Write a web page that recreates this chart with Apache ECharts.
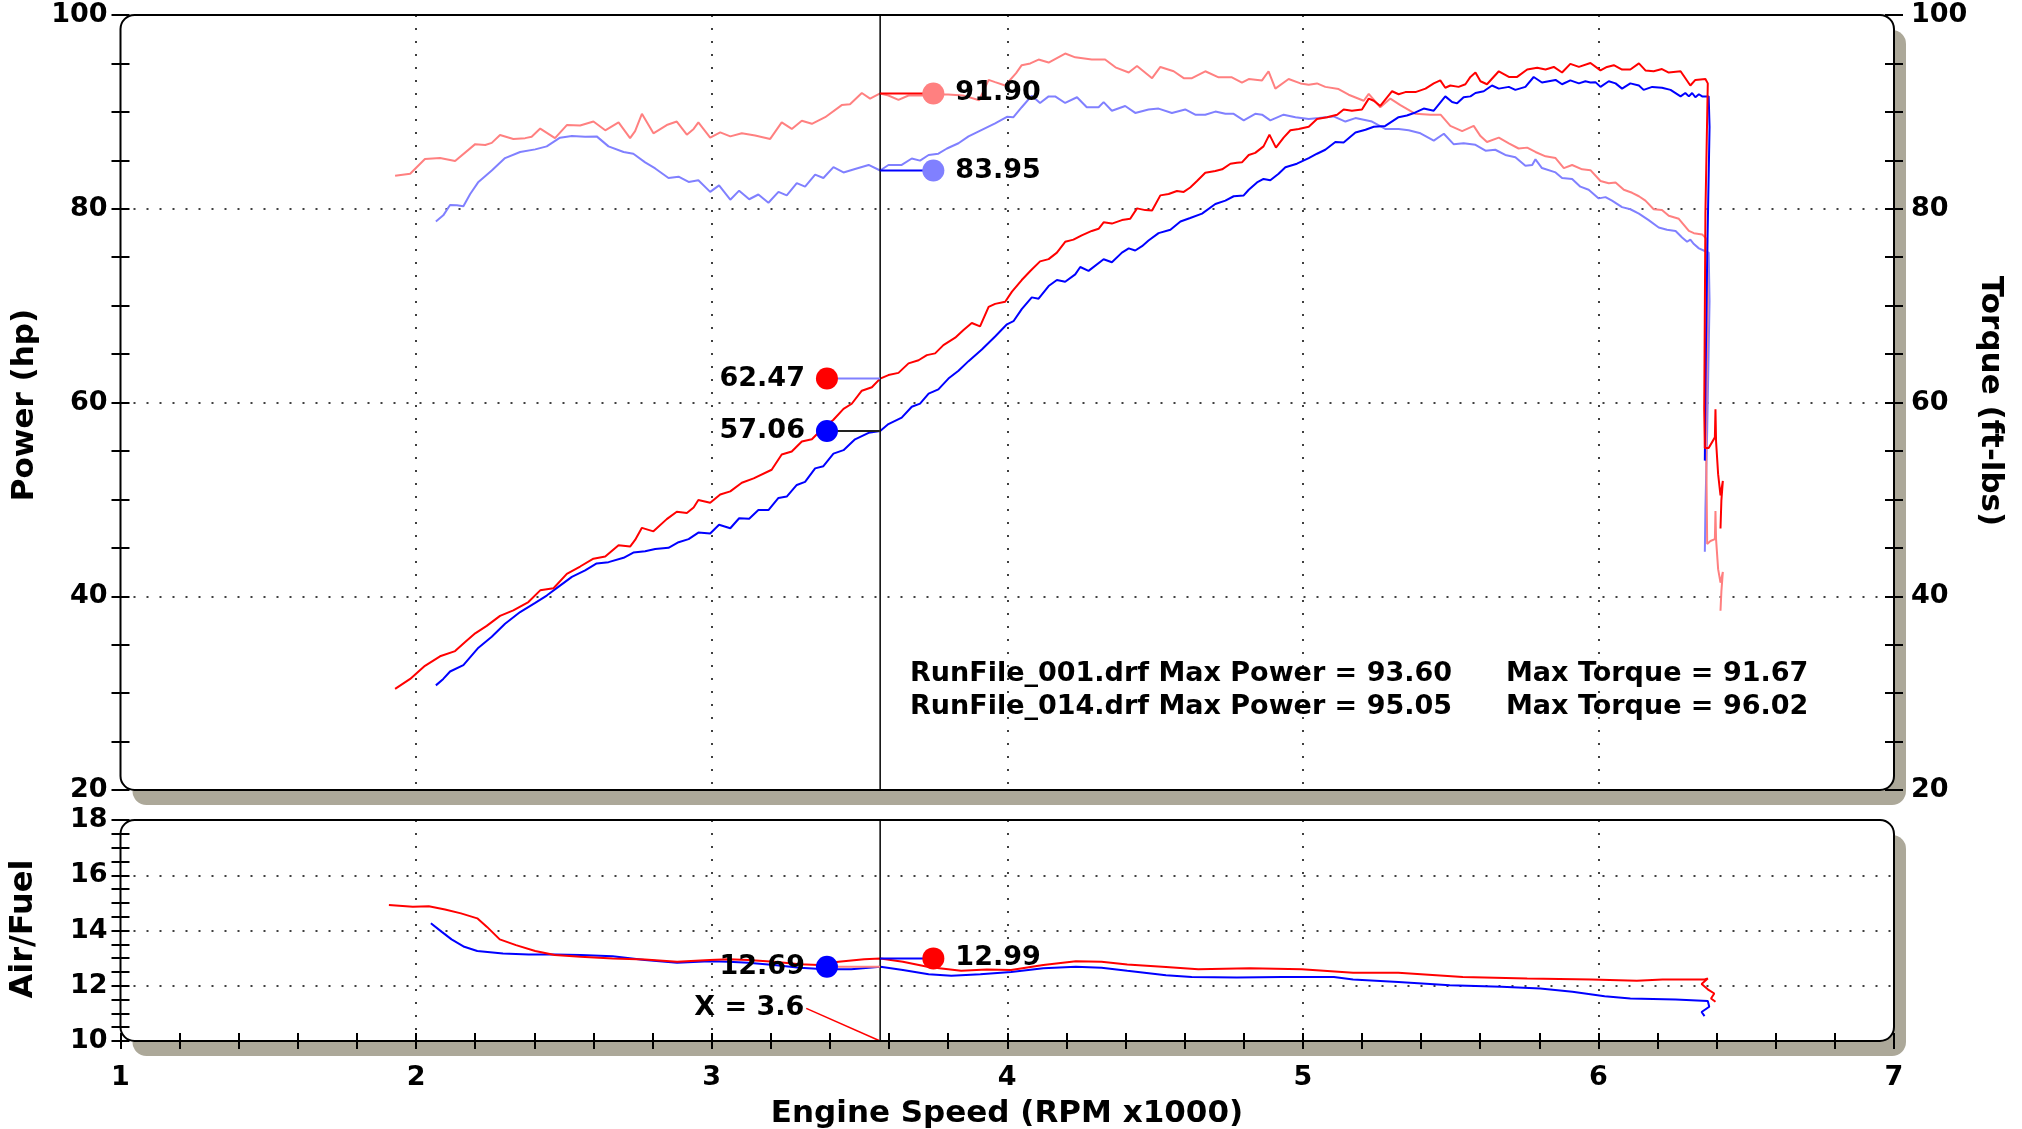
<!DOCTYPE html>
<html><head><meta charset="utf-8">
<script src="https://cdn.jsdelivr.net/npm/echarts/dist/echarts.min.js"></script>
<style>html,body{margin:0;padding:0;background:#fff}#c{width:2022px;height:1129px}</style>
</head><body><div id="c"></div>
<script>
// ---------- DATA ----------
// Run 001 (blue) power, hp
const pwrA_rpm = [2.067,2.092,2.115,2.160,2.211,2.256,2.301,2.352,2.403,2.442,2.487,2.527,2.572,2.611,2.651,2.702,2.735,2.775,2.809,2.854,2.888,2.922,2.955,2.995,3.025,3.063,3.093,3.127,3.158,3.192,3.226,3.254,3.288,3.316,3.350,3.378,3.412,3.446,3.485,3.531,3.570,3.598,3.643,3.677,3.705,3.734,3.767,3.801,3.835,3.869,3.914,3.959,3.999,4.021,4.049,4.083,4.106,4.140,4.168,4.196,4.230,4.247,4.275,4.326,4.354,4.388,4.411,4.433,4.456,4.478,4.512,4.552,4.586,4.619,4.659,4.704,4.738,4.766,4.800,4.817,4.845,4.867,4.890,4.918,4.941,4.980,5.020,5.048,5.076,5.110,5.138,5.178,5.212,5.240,5.279,5.324,5.352,5.381,5.409,5.443,5.482,5.505,5.522,5.544,5.567,5.584,5.612,5.640,5.663,5.697,5.719,5.753,5.781,5.809,5.855,5.877,5.905,5.934,5.956,5.973,5.990,6.007,6.035,6.058,6.080,6.108,6.137,6.153,6.182,6.215,6.244,6.278,6.294,6.306,6.317,6.328,6.340,6.351,6.373,6.376,6.368,6.362,6.360];
const pwrA_hp = [30.80,31.47,32.23,32.90,34.69,35.82,37.16,38.37,39.31,40.07,41.10,42.00,42.67,43.39,43.52,43.97,44.51,44.64,44.87,45.00,45.58,45.90,46.57,46.48,47.38,47.02,48.05,48.00,48.90,48.90,50.15,50.29,51.49,51.81,53.20,53.42,54.72,55.08,56.20,56.87,57.06,57.77,58.44,59.56,59.88,60.91,61.35,62.47,63.28,64.27,65.48,66.82,68.07,68.39,69.64,70.85,70.72,72.02,72.64,72.46,73.23,73.99,73.59,74.79,74.48,75.47,75.91,75.69,76.14,76.72,77.48,77.84,78.69,79.05,79.50,80.49,80.84,81.29,81.38,81.96,82.72,83.08,82.95,83.62,84.29,84.65,85.23,85.68,86.09,86.89,86.85,87.88,88.15,88.46,88.55,89.45,89.62,89.94,90.34,90.12,91.60,91.01,90.88,91.51,91.60,91.95,92.13,92.72,92.40,92.58,92.27,92.58,93.60,93.03,93.30,92.85,93.25,92.94,93.16,93.03,93.07,92.58,93.16,92.94,92.40,92.94,92.72,92.27,92.58,92.49,92.27,91.60,91.95,91.60,91.95,91.51,91.82,91.60,91.60,88.46,75.00,61.58,54.00];
// Run 014 (red) power, hp
const pwrB_rpm = [1.929,1.980,2.030,2.081,2.132,2.166,2.200,2.239,2.284,2.329,2.380,2.420,2.465,2.510,2.555,2.600,2.640,2.685,2.724,2.741,2.764,2.803,2.848,2.882,2.916,2.939,2.955,2.995,3.029,3.063,3.102,3.142,3.203,3.237,3.271,3.305,3.339,3.373,3.412,3.446,3.474,3.508,3.542,3.570,3.598,3.632,3.666,3.700,3.728,3.756,3.784,3.824,3.852,3.880,3.908,3.937,3.959,3.993,4.016,4.049,4.078,4.111,4.140,4.168,4.196,4.224,4.252,4.286,4.309,4.326,4.354,4.388,4.416,4.439,4.467,4.490,4.518,4.546,4.574,4.597,4.619,4.642,4.670,4.704,4.727,4.755,4.777,4.794,4.817,4.839,4.867,4.887,4.909,4.935,4.958,4.986,5.020,5.048,5.082,5.116,5.138,5.166,5.200,5.223,5.240,5.262,5.302,5.324,5.347,5.381,5.415,5.443,5.465,5.482,5.499,5.527,5.550,5.567,5.584,5.601,5.623,5.663,5.697,5.725,5.759,5.793,5.821,5.849,5.877,5.905,5.934,5.973,6.007,6.029,6.052,6.080,6.108,6.137,6.159,6.187,6.215,6.238,6.278,6.311,6.328,6.362,6.370,6.362,6.358,6.360,6.373,6.394,6.396,6.398,6.405,6.413,6.421,6.416,6.413];
const pwrB_hp = [30.44,31.47,32.82,33.80,34.34,35.28,36.17,36.94,37.97,38.55,39.40,40.61,40.83,42.31,43.07,43.88,44.10,45.27,45.13,45.81,47.06,46.70,47.96,48.72,48.59,49.17,49.93,49.66,50.51,50.83,51.72,52.17,53.06,54.63,54.95,55.98,56.20,57.23,58.22,59.34,59.87,61.22,61.58,62.47,62.83,63.06,64.04,64.36,64.89,65.07,65.92,66.69,67.49,68.21,67.85,69.87,70.18,70.40,71.44,72.64,73.58,74.57,74.80,75.47,76.59,76.81,77.26,77.71,77.93,78.60,78.47,78.83,78.96,80.04,79.86,79.81,81.38,81.52,81.83,81.74,82.19,82.86,83.71,83.89,84.07,84.65,84.74,84.79,85.55,85.77,86.44,87.65,86.31,87.34,88.10,88.24,88.46,89.27,89.45,89.71,90.25,90.12,90.25,91.37,91.15,90.61,92.13,91.82,92.04,92.04,92.40,92.94,93.25,92.49,92.72,92.58,92.85,93.61,94.06,93.16,92.85,94.19,93.61,93.61,94.37,94.55,94.37,94.64,94.06,94.96,94.64,95.05,94.28,94.64,94.82,94.37,94.37,95.00,94.28,94.19,94.42,94.06,94.19,92.72,93.30,93.39,92.94,79.50,59.30,55.30,55.30,56.40,59.30,56.00,52.60,50.40,51.90,49.90,47.00];
// Run 001 (light blue) torque, ft-lbs
const trqA_rpm = [2.067,2.092,2.115,2.138,2.160,2.183,2.211,2.256,2.301,2.352,2.403,2.442,2.487,2.527,2.572,2.611,2.651,2.702,2.735,2.775,2.809,2.854,2.888,2.922,2.955,2.995,3.025,3.063,3.093,3.127,3.158,3.192,3.226,3.254,3.288,3.316,3.350,3.378,3.412,3.446,3.485,3.531,3.570,3.598,3.643,3.677,3.705,3.734,3.767,3.796,3.835,3.869,3.914,3.959,3.999,4.021,4.049,4.083,4.111,4.140,4.162,4.196,4.236,4.269,4.309,4.326,4.354,4.399,4.433,4.478,4.512,4.557,4.602,4.636,4.670,4.704,4.738,4.766,4.800,4.839,4.862,4.890,4.935,4.975,5.020,5.054,5.104,5.144,5.178,5.234,5.279,5.324,5.358,5.398,5.443,5.477,5.510,5.544,5.584,5.618,5.651,5.685,5.719,5.753,5.776,5.787,5.809,5.855,5.877,5.911,5.939,5.967,6.001,6.024,6.046,6.080,6.108,6.137,6.170,6.204,6.232,6.261,6.283,6.300,6.311,6.323,6.340,6.356,6.373,6.376,6.368,6.362,6.360];
const trqA_ft = [78.69,79.32,80.39,80.35,80.26,81.52,82.77,83.94,85.23,85.86,86.13,86.44,87.34,87.52,87.43,87.47,86.44,85.86,85.68,84.79,84.16,83.17,83.31,82.77,82.95,81.74,82.41,80.93,81.87,80.98,81.47,80.62,81.74,81.38,82.64,82.28,83.53,83.17,84.29,83.75,84.11,84.52,83.95,84.52,84.52,85.19,84.97,85.55,85.68,86.22,86.76,87.47,88.15,88.82,89.49,89.45,90.48,91.67,90.92,91.60,91.60,90.92,91.51,90.48,90.48,91.01,90.12,90.61,89.89,90.25,90.34,89.89,90.25,89.71,89.71,90.03,89.80,89.80,89.13,89.80,89.71,89.13,89.71,89.45,89.27,89.36,89.53,89.00,89.36,89.00,88.24,88.24,88.10,87.79,87.03,87.74,86.67,86.76,86.60,85.99,86.09,85.55,85.32,84.43,84.52,85.10,84.20,83.75,83.17,83.08,82.28,81.96,81.07,81.20,80.84,80.17,79.95,79.50,78.83,78.07,77.84,77.71,77.03,76.59,76.81,76.36,75.91,75.69,75.47,70.50,57.10,49.00,44.60];
// Run 014 (light red) torque, ft-lbs
const trqB_rpm = [1.929,1.980,2.030,2.081,2.132,2.200,2.234,2.256,2.284,2.329,2.369,2.391,2.420,2.470,2.510,2.555,2.600,2.640,2.685,2.724,2.741,2.764,2.803,2.848,2.882,2.916,2.939,2.955,2.995,3.029,3.063,3.102,3.147,3.198,3.237,3.271,3.305,3.339,3.384,3.440,3.468,3.508,3.536,3.570,3.598,3.632,3.666,3.711,3.750,3.800,3.850,3.905,3.937,3.959,3.993,4.030,4.049,4.078,4.106,4.140,4.196,4.230,4.286,4.331,4.366,4.411,4.439,4.490,4.518,4.563,4.597,4.625,4.670,4.715,4.760,4.794,4.817,4.862,4.884,4.907,4.952,4.992,5.020,5.048,5.076,5.121,5.155,5.206,5.223,5.262,5.296,5.330,5.381,5.432,5.466,5.499,5.539,5.578,5.601,5.623,5.663,5.697,5.730,5.759,5.787,5.821,5.855,5.883,5.911,5.945,5.973,6.007,6.035,6.058,6.086,6.114,6.137,6.159,6.187,6.215,6.238,6.272,6.306,6.323,6.351,6.368,6.370,6.364,6.368,6.379,6.394,6.396,6.398,6.405,6.413,6.421,6.416,6.413];
const trqB_ft = [83.40,83.62,85.14,85.23,84.92,86.67,86.58,86.80,87.61,87.20,87.29,87.43,88.28,87.29,88.64,88.59,89.00,88.10,88.91,87.29,88.01,89.80,87.79,88.64,89.00,87.65,88.24,88.91,87.34,87.88,87.47,87.79,87.56,87.21,88.91,88.24,89.09,88.77,89.45,90.70,90.79,91.95,91.37,91.90,91.69,91.24,91.69,91.69,91.80,91.80,91.70,91.20,93.30,93.07,92.72,94.00,94.82,95.00,95.40,95.09,96.02,95.63,95.40,95.40,94.60,94.06,94.73,93.48,94.64,94.19,93.48,93.48,94.19,93.57,93.57,93.03,93.39,93.25,94.19,92.40,93.39,92.94,92.81,92.94,92.58,92.36,91.77,91.15,91.86,90.48,91.37,90.70,89.80,89.71,89.71,88.55,88.01,88.55,87.50,86.89,87.34,86.76,86.22,86.31,85.86,85.41,85.23,84.20,84.52,84.07,83.98,82.86,82.64,82.72,81.96,81.65,81.29,80.84,79.95,79.86,79.27,78.96,77.71,77.48,77.35,76.81,70.50,57.10,45.40,45.70,45.90,48.80,45.90,42.80,41.40,42.50,40.50,38.50];
// Air/Fuel ratio
const afrA_rpm = [2.050,2.087,2.120,2.163,2.207,2.294,2.381,2.469,2.556,2.665,2.774,2.883,2.993,3.058,3.123,3.211,3.298,3.385,3.472,3.571,3.647,3.734,3.811,3.909,4.013,4.122,4.232,4.319,4.406,4.537,4.624,4.777,4.930,5.105,5.170,5.323,5.497,5.672,5.803,5.912,6.021,6.108,6.261,6.370,6.375,6.349,6.359];
const afrA_val = [14.26,13.95,13.68,13.41,13.26,13.17,13.13,13.13,13.11,13.07,12.93,12.83,12.89,12.87,12.83,12.75,12.65,12.60,12.60,12.69,12.57,12.42,12.36,12.42,12.50,12.63,12.69,12.65,12.54,12.38,12.32,12.30,12.32,12.32,12.23,12.14,12.02,11.96,11.90,11.78,11.62,11.54,11.50,11.45,11.24,11.05,10.90];
const afrB_rpm = [1.908,1.989,2.043,2.098,2.152,2.207,2.240,2.283,2.338,2.403,2.469,2.556,2.665,2.774,2.883,2.993,3.058,3.123,3.211,3.298,3.363,3.429,3.516,3.571,3.647,3.734,3.844,3.931,4.013,4.122,4.232,4.319,4.406,4.537,4.646,4.821,4.996,5.170,5.323,5.541,5.759,5.977,6.130,6.217,6.359,6.370,6.349,6.370,6.392,6.381,6.396];
const afrB_val = [14.92,14.86,14.88,14.76,14.62,14.44,14.13,13.68,13.47,13.26,13.11,13.05,12.99,12.95,12.87,12.93,12.96,12.93,12.87,12.78,12.75,12.87,12.96,12.99,12.87,12.68,12.54,12.59,12.57,12.75,12.89,12.87,12.77,12.68,12.60,12.63,12.60,12.47,12.47,12.32,12.26,12.23,12.18,12.23,12.23,12.26,12.06,11.87,11.72,11.54,11.42];
// Cursor readout
const cursorRpm = 3.57;
const markRightRpm = 3.75, markLeftRpm = 3.39;
const cursorTrqB = 91.90, cursorTrqA = 83.95, cursorPwrB = 62.47, cursorPwrA = 57.06;
const cursorAfrB = 12.99, cursorAfrA = 12.69;
const xLabelPoint = [3.32, 11.18];
const summaryLines = [
  ['RunFile_001.drf Max Power = 93.60', 'Max Torque = 91.67'],
  ['RunFile_014.drf Max Power = 95.05', 'Max Torque = 96.02']
];

// ---------- CHART ----------
const FONT = '"DejaVu Sans", Verdana, sans-serif';
const pair = (a, b) => a.map((v, i) => [v, b[i]]);
const GU = {left: 120.5, top: 15, width: 1773.5, height: 775};
const GL = {left: 120.5, top: 820, width: 1773.5, height: 221};
const dotted = {color: '#000', width: 1.5, type: [2, 11]};
const lbl = {color: '#000', opacity: 1, fontFamily: FONT, fontWeight: 'bold', fontSize: 27, textBorderWidth: 0};

function yAx(grid, pos, min, max, itv, opt) {
  return Object.assign({
    type: 'value', gridIndex: grid, position: pos, min: min, max: max, interval: itv,
    axisLine: {show: false},
    axisTick: {show: true, length: 9, lineStyle: {color: '#000', width: 2}},
    minorTick: {show: true, splitNumber: 4, length: 9, lineStyle: {color: '#000', width: 2}},
    axisLabel: {show: false},
    splitLine: {show: false}, minorSplitLine: {show: false}
  }, opt);
}

const chart = echarts.init(document.getElementById('c'), null, {renderer: 'canvas'});
const lineS = (name, data, color, x, y, z) => ({
  name: name, type: 'line', xAxisIndex: x, yAxisIndex: y, data: data, showSymbol: false, symbol: 'none',
  lineStyle: {color: color, width: 2, opacity: 1}, itemStyle: {color: color}, silent: true, z: z || 2, animation: false
});
const leader = (p0, p1, color, x, y) => lineS('', [p0, p1], color, x, y, 5);
const dot = (pt, color, pos, x, y) => ({
  type: 'scatter', xAxisIndex: x, yAxisIndex: y, symbolSize: 22, z: 6, silent: true,
  itemStyle: {opacity: 1},
  data: [{value: pt, itemStyle: {color: color, opacity: 1}}],
  label: Object.assign({show: true, position: pos, distance: 11, formatter: p => p.value[1].toFixed(2)}, lbl)
});
const tickLbl = Object.assign({padding: [5, 0, 0, 0]}, lbl);

chart.setOption({
  animation: false,
  backgroundColor: '#fff',
  grid: [
    Object.assign({show: false, outerBoundsMode: 'none', containLabel: false}, GU),
    Object.assign({show: false, outerBoundsMode: 'none', containLabel: false}, GL)
  ],
  xAxis: [
    {type: 'value', gridIndex: 0, min: 1, max: 7, interval: 1, axisLine: {show: false}, axisTick: {show: false},
     axisLabel: {show: false}, splitLine: {show: true, showMinLine: false, showMaxLine: false, lineStyle: dotted}},
    {type: 'value', gridIndex: 1, position: 'bottom', min: 1, max: 7, interval: 1, axisLine: {show: false},
     axisTick: {show: true, length: 8, lineStyle: {color: '#000', width: 2}},
     minorTick: {show: true, splitNumber: 5, length: 8, lineStyle: {color: '#000', width: 2}},
     axisLabel: Object.assign({show: true, margin: 23}, lbl),
     splitLine: {show: true, showMinLine: false, showMaxLine: false, lineStyle: dotted}},
    {type: 'value', gridIndex: 1, position: 'bottom', min: 1, max: 7, interval: 1, axisLine: {show: false},
     axisTick: {show: true, inside: true, length: 8, lineStyle: {color: '#000', width: 2}},
     minorTick: {show: true, splitNumber: 5, length: 8, lineStyle: {color: '#000', width: 2}},
     axisLabel: {show: false}, splitLine: {show: false}}
  ],
  yAxis: [
    yAx(0, 'left', 20, 100, 20, {axisLabel: Object.assign({show: true, margin: 13}, tickLbl),
      splitLine: {show: true, showMinLine: false, showMaxLine: false, lineStyle: dotted}}),
    yAx(0, 'right', 20, 100, 20, {axisLabel: Object.assign({show: true, margin: 17}, tickLbl)}),
    yAx(0, 'left', 20, 100, 20, {axisTick: {show: true, inside: true, length: 9, lineStyle: {color: '#000', width: 2}}}),
    yAx(0, 'right', 20, 100, 20, {axisTick: {show: true, inside: true, length: 9, lineStyle: {color: '#000', width: 2}}}),
    yAx(1, 'left', 10, 18, 2, {axisLabel: Object.assign({show: true, margin: 13}, tickLbl),
      splitLine: {show: true, showMinLine: false, showMaxLine: false, lineStyle: dotted}}),
    yAx(1, 'left', 10, 18, 2, {axisTick: {show: true, inside: true, length: 9, lineStyle: {color: '#000', width: 2}}})
  ],
  graphic: [
    {type: 'rect', z: -10, silent: true, shape: {x: GU.left + 12, y: GU.top + 15, width: GU.width, height: GU.height, r: 14}, style: {fill: '#aca899'}},
    {type: 'rect', z: -10, silent: true, shape: {x: GL.left + 12, y: GL.top + 15, width: GL.width, height: GL.height, r: 14}, style: {fill: '#aca899'}},
    {type: 'rect', z: -9, silent: true, shape: {x: GU.left, y: GU.top, width: GU.width, height: GU.height, r: 14}, style: {fill: '#fff'}},
    {type: 'rect', z: -9, silent: true, shape: {x: GL.left, y: GL.top, width: GL.width, height: GL.height, r: 14}, style: {fill: '#fff'}},
    {type: 'rect', z: 100, silent: true, shape: {x: GU.left, y: GU.top, width: GU.width, height: GU.height, r: 14}, style: {fill: null, stroke: '#000', lineWidth: 2}},
    {type: 'rect', z: 100, silent: true, shape: {x: GL.left, y: GL.top, width: GL.width, height: GL.height, r: 14}, style: {fill: null, stroke: '#000', lineWidth: 2}},
    {type: 'text', z: 100, x: 25, y: 405, rotation: Math.PI / 2, silent: true,
     style: {text: 'Power (hp)', font: 'bold 31px ' + FONT, fill: '#000', align: 'center', verticalAlign: 'middle', textAlign: 'center', textVerticalAlign: 'middle'}},
    {type: 'text', z: 100, x: 1990, y: 401, rotation: -Math.PI / 2, silent: true,
     style: {text: 'Torque (ft-lbs)', font: 'bold 31px ' + FONT, fill: '#000', align: 'center', verticalAlign: 'middle', textAlign: 'center', textVerticalAlign: 'middle'}},
    {type: 'text', z: 100, x: 24, y: 929, rotation: Math.PI / 2, silent: true,
     style: {text: 'Air/Fuel', font: 'bold 32px ' + FONT, fill: '#000', align: 'center', verticalAlign: 'middle', textAlign: 'center', textVerticalAlign: 'middle'}},
    {type: 'text', z: 100, x: 1007, y: 1114, silent: true,
     style: {text: 'Engine Speed (RPM x1000)', font: 'bold 31px ' + FONT, fill: '#000', align: 'center', verticalAlign: 'middle', textAlign: 'center', textVerticalAlign: 'middle'}},
    {type: 'text', z: 100, x: 910, y: 674, silent: true,
     style: {text: summaryLines[0][0], font: 'bold 27px ' + FONT, fill: '#000', align: 'left', verticalAlign: 'middle', textAlign: 'left', textVerticalAlign: 'middle'}},
    {type: 'text', z: 100, x: 910, y: 707, silent: true,
     style: {text: summaryLines[1][0], font: 'bold 27px ' + FONT, fill: '#000', align: 'left', verticalAlign: 'middle', textAlign: 'left', textVerticalAlign: 'middle'}},
    {type: 'text', z: 100, x: 1506, y: 674, silent: true,
     style: {text: summaryLines[0][1], font: 'bold 27px ' + FONT, fill: '#000', align: 'left', verticalAlign: 'middle', textAlign: 'left', textVerticalAlign: 'middle'}},
    {type: 'text', z: 100, x: 1506, y: 707, silent: true,
     style: {text: summaryLines[1][1], font: 'bold 27px ' + FONT, fill: '#000', align: 'left', verticalAlign: 'middle', textAlign: 'left', textVerticalAlign: 'middle'}}
  ],
  series: [
    lineS('Torque 001', pair(trqA_rpm, trqA_ft), '#8080ff', 0, 1, 2),
    lineS('Torque 014', pair(trqB_rpm, trqB_ft), '#ff8080', 0, 1, 2),
    lineS('Power 001', pair(pwrA_rpm, pwrA_hp), '#0000ff', 0, 0, 3),
    lineS('Power 014', pair(pwrB_rpm, pwrB_hp), '#ff0000', 0, 0, 3),
    lineS('A/F 001', pair(afrA_rpm, afrA_val), '#0000ff', 1, 4, 3),
    lineS('A/F 014', pair(afrB_rpm, afrB_val), '#ff0000', 1, 4, 3),
    // cursor lines
    Object.assign(lineS('cursor', [[cursorRpm, 20], [cursorRpm, 100]], '#000', 0, 0, 4), {lineStyle: {color: '#000', width: 1.5}}),
    Object.assign(lineS('cursor2', [[cursorRpm, 10], [cursorRpm, 18]], '#000', 1, 4, 4), {lineStyle: {color: '#000', width: 1.5}}),
    // leaders
    leader([cursorRpm, cursorTrqB], [markRightRpm, cursorTrqB], '#ff0000', 0, 1),
    leader([cursorRpm, cursorTrqA], [markRightRpm, cursorTrqA], '#0000ff', 0, 1),
    leader([markLeftRpm, cursorPwrB], [cursorRpm, cursorPwrB], '#8080ff', 0, 0),
    leader([markLeftRpm, cursorPwrA], [cursorRpm, cursorPwrA], '#222222', 0, 0),
    leader([cursorRpm, cursorAfrB], [markRightRpm, cursorAfrB], '#0000ff', 1, 4),
    leader([markLeftRpm, cursorAfrA], [cursorRpm, cursorAfrA], '#ff8080', 1, 4),
    Object.assign(leader([cursorRpm, 10], xLabelPoint, '#ff0000', 1, 4), {lineStyle: {color: '#ff0000', width: 1.5}}),
    // dots
    dot([markRightRpm, cursorTrqB], '#ff8080', 'right', 0, 1),
    dot([markRightRpm, cursorTrqA], '#8080ff', 'right', 0, 1),
    dot([markLeftRpm, cursorPwrB], '#ff0000', 'left', 0, 0),
    dot([markLeftRpm, cursorPwrA], '#0000ff', 'left', 0, 0),
    dot([markRightRpm, cursorAfrB], '#ff0000', 'right', 1, 4),
    dot([markLeftRpm, cursorAfrA], '#0000ff', 'left', 1, 4),
    {type: 'scatter', xAxisIndex: 1, yAxisIndex: 4, symbolSize: 0, z: 6, silent: true,
     itemStyle: {opacity: 1},
     data: [{value: xLabelPoint}],
     label: Object.assign({show: true, position: 'left', distance: 2, formatter: () => 'X = ' + cursorRpm.toFixed(1)}, lbl)}
  ]
});
</script></body></html>
